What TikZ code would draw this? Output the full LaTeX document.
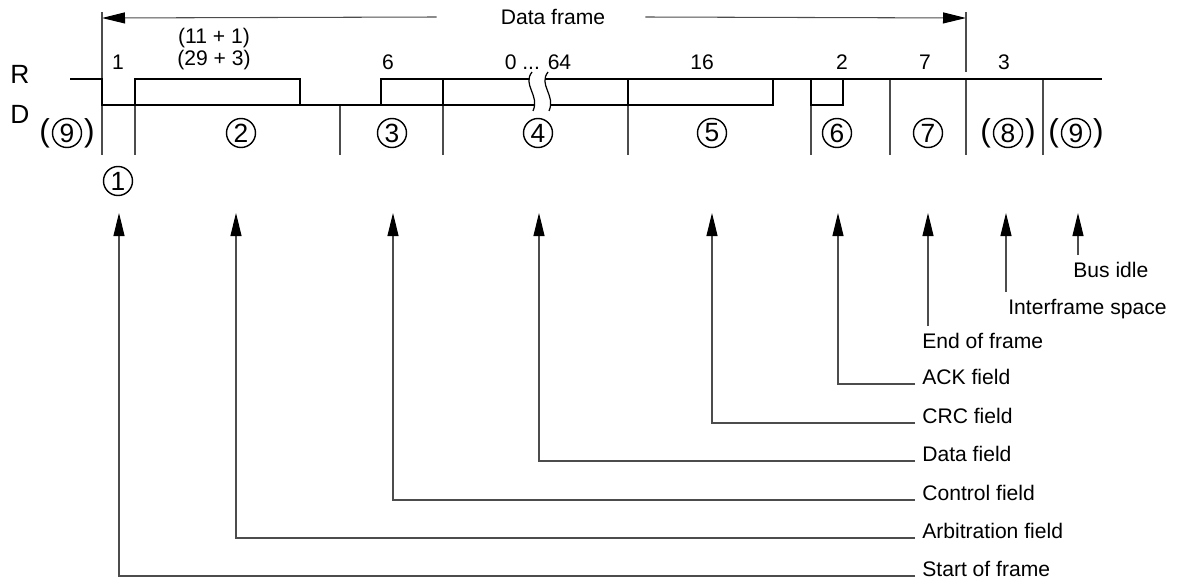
\documentclass[tikz,border=0pt]{standalone}
\usepackage{fontspec}
\setmainfont{Liberation Sans}
\usetikzlibrary{arrows.meta,positioning}

\tikzset{
	wave/.style={line width=1.2pt},
	divider/.style={line width=0.6pt, black!70},
	tip/.style={-{Triangle[length=4.6mm,width=2.2mm,color=black]}},
	leader/.style={line width=0.6pt, black!70, tip},
	field/.style={circle, draw, line width=0.8pt, inner sep=0pt, minimum size=5.8mm,
		font=\fontsize{15}{17}\selectfont},
	paren/.style={inner sep=0pt, font=\fontsize{18}{20}\selectfont},
	level/.style={font=\fontsize{15}{18}\selectfont},
	note/.style={inner xsep=1.4mm, inner ysep=1.4mm},
}

\begin{document}
\begin{tikzpicture}[x=0.2mm,y=-0.2mm,every node/.style={font=\fontsize{12}{14}\selectfont}]
	\useasboundingbox (0,0) rectangle (1179,584);
	% bus levels
	\node[level] (lvlr) at (20,74) {R};
	\node[level] (lvld) at (20,114) {D};
	% span of the data frame
	\node (frame) at (553,17) {Data frame};
	\coordinate (framel) at (102,18);
	\coordinate (framer) at (966,18);
	\draw[divider, tip] ([xshift=-11.6mm]frame.west) -- (framel);
	\draw[divider, tip] ([xshift=6.8mm]frame.east) -- (framer);
	% field borders
	\draw[divider] (102,12) -- (102,155);
	\draw[divider] (966,12) -- (966,72);
	\foreach \x in {135,340,443,628,811}
		\draw[divider] (\x,105) -- (\x,155);
	\foreach \x in {890,966,1043}
		\draw[divider] (\x,79) -- (\x,155);
	% bit pattern
	\draw[wave] (70,79) -- (102,79) -- (102,105) -- (773,105);
	\draw[wave] (135,79) rectangle (300,105);
	\draw[wave] (381,79) rectangle (628,105);
	\draw[wave] (443,79) -- (443,105);
	\draw[wave] (628,79) rectangle (773,105);
	\draw[wave] (767,79) -- (1102,79);
	\draw[wave] (811,79) -- (811,105) -- (843,105) -- (843,79);
	% break in the data field
	\fill[white] (532,72) .. controls (522,85) and (540,95) .. (533,111)
		-- (549,111) .. controls (556,95) and (538,85) .. (548,72) -- cycle;
	\draw[line width=0.7pt] (532,72) .. controls (522,85) and (540,95) .. (533,111);
	\draw[line width=0.7pt] (548,72) .. controls (538,85) and (556,95) .. (549,111);
	% bit counts
	\node (b1) at (118,62) {1};
	\node (b2a) at (214,38) {(11 + 1)};
	\node (b2b) at (214,60) {(29 + 3)};
	\node (b3) at (388,62) {6};
	\node (b4) at (538,62) {0 ... 64};
	\node (b5) at (702,62) {16};
	\node (b6) at (842,62) {2};
	\node (b7) at (925,62) {7};
	\node (b8) at (1004,62) {3};
	% field numbers
	\node[field] (f9a) at (67,133) {9};
	\node[paren, left=0.3mm of f9a] (f9al) {(};
	\node[paren, right=0.3mm of f9a] (f9ar) {)};
	\node[field] (f1) at (118,181) {1};
	\node[field] (f2) at (241,133) {2};
	\node[field] (f3) at (392,133) {3};
	\node[field] (f4) at (538,133) {4};
	\node[field] (f5) at (712,133) {5};
	\node[field] (f6) at (837,133) {6};
	\node[field] (f7) at (928,133) {7};
	\node[field] (f8) at (1008,133) {8};
	\node[paren, left=0.3mm of f8] (f8l) {(};
	\node[paren, right=0.3mm of f8] (f8r) {)};
	\node[field] (f9b) at (1076,133) {9};
	\node[paren, left=0.3mm of f9b] (f9bl) {(};
	\node[paren, right=0.3mm of f9b] (f9br) {)};
	% arrow tips under the fields
	\coordinate (sof) at (119,213);
	\coordinate (arb) at (236,213);
	\coordinate (ctl) at (393,213);
	\coordinate (dat) at (539,213);
	\coordinate (crc) at (712,213);
	\coordinate (ack) at (838,213);
	\coordinate (eof) at (928,213);
	\coordinate (ifs) at (1006,213);
	\coordinate (idle) at (1078,213);
	% field names
	\node[note, anchor=north west] (lidle) at (1066,255) {Bus idle};
	\node[note, anchor=north west] (lifs) at (1001,292) {Interframe space};
	\node[note, anchor=north west] (leof) at (915,326) {End of frame};
	\node[note, anchor=base west] (lack) at (915,384) {ACK field};
	\node[note, anchor=base west] (lcrc) at (915,423) {CRC field};
	\node[note, anchor=base west] (ldat) at (915,461) {Data field};
	\node[note, anchor=base west] (lctl) at (915,500) {Control field};
	\node[note, anchor=base west] (larb) at (915,538) {Arbitration field};
	\node[note, anchor=base west] (lsof) at (915,576) {Start of frame};
	\draw[leader] (lidle.north -| idle) -- (idle);
	\draw[leader] (lifs.north -| ifs) -- (ifs);
	\draw[leader] (leof.north -| eof) -- (eof);
	\draw[leader] (lack.base west) -| (ack);
	\draw[leader] (lcrc.base west) -| (crc);
	\draw[leader] (ldat.base west) -| (dat);
	\draw[leader] (lctl.base west) -| (ctl);
	\draw[leader] (larb.base west) -| (arb);
	\draw[leader] (lsof.base west) -| (sof);
\end{tikzpicture}
\end{document}
